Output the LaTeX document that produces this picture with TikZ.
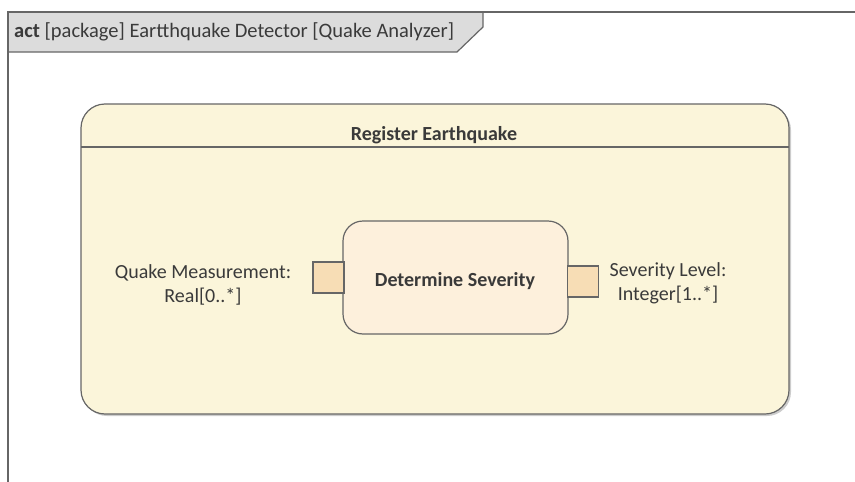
\documentclass[tikz,border=0pt]{standalone}
\usepackage{fontspec}
\setmainfont{Carlito}
\begin{document}
\begin{tikzpicture}[x=1pt,y=-1pt,
  edge/.style={draw=black!60,line width=1.2pt},
  actbox/.style={edge,rounded corners=24pt,fill=yellowfill},
  innerbox/.style={edge,rounded corners=20pt,fill=innerfill},
  pinbox/.style={edge,fill=pinfill,minimum width=31pt,minimum height=31pt,inner sep=0pt},
  lbl/.style={text=textcol,font=\fontsize{20}{24}\selectfont,align=center,inner sep=0pt},
  ]
\definecolor{yellowfill}{HTML}{FBF5DA}
\definecolor{innerfill}{HTML}{FDF0DC}
\definecolor{pinfill}{HTML}{F7DDB5}
\definecolor{tabfill}{HTML}{DCDCDC}
\definecolor{textcol}{HTML}{3A3A3A}
\useasboundingbox (0,0) rectangle (855,482);
% frame
\draw[edge,fill=tabfill] (8,12) -- (483,12) -- (483,27) -- (457,52) -- (8,52) -- cycle;
\draw[edge] (8,482) -- (8,12) -- (855,12);
\node[anchor=west,text=textcol,font=\fontsize{20.5}{24}\selectfont,inner sep=0pt] (title) at (14,32) {\textbf{act} [package] Eartthquake Detector [Quake Analyzer]};
% shadow
\fill[black!20,rounded corners=24pt] (83,106) rectangle (791,416);
\draw[actbox] (81,104) rectangle (789,414);
\draw[edge] (81,147) -- (789,147);
\node[lbl,font=\bfseries\fontsize{20}{24}\selectfont] (reg) at (434,135) {Register Earthquake};
% inner action
\draw[innerbox] (343,221) rectangle (568,334);
\node[lbl,font=\bfseries\fontsize{20}{24}\selectfont] (det) at (455,281) {Determine Severity};
\node[pinbox] (pin1) at (328.5,277.5) {};
\node[pinbox] (pin2) at (583,281.5) {};
\node[lbl] (lin) at (203,285) {Quake Measurement:\\Real[0..*]};
\node[lbl] (lout) at (668,283) {Severity Level:\\Integer[1..*]};
\end{tikzpicture}
\end{document}
